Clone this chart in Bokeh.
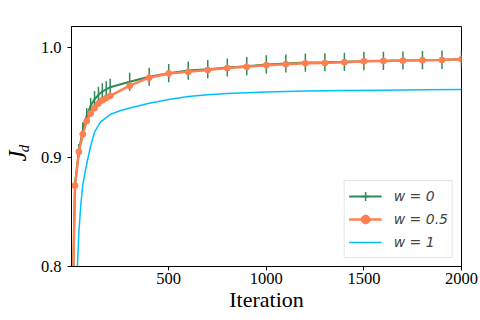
import math
from bokeh.plotting import figure
from bokeh.models import Range1d, FixedTicker, Legend, LegendItem, LinearAxis, ColumnDataSource
from bokeh.embed import file_html
from bokeh.resources import INLINE

# ---- data ----
iters = [0, 20, 40, 60, 80, 100, 120, 140, 160, 180, 200,
         300, 400, 500, 600, 700, 800, 900, 1000, 1100, 1200, 1300,
         1400, 1500, 1600, 1700, 1800, 1900, 2000]
jd_w0 = [0.70, 0.875, 0.906, 0.925, 0.938, 0.947, 0.953, 0.957, 0.960, 0.962, 0.964,
         0.969, 0.9735, 0.9768, 0.9792, 0.9805, 0.9820, 0.9832, 0.9848, 0.9857, 0.9865, 0.9868,
         0.9872, 0.9878, 0.9881, 0.9884, 0.9887, 0.9890, 0.9895]
err_w0 = [0.0, 0.005, 0.006, 0.007, 0.007, 0.007, 0.0075, 0.0075, 0.0075, 0.0075, 0.0078,
          0.0083, 0.0083, 0.0083, 0.0083, 0.0083, 0.0083, 0.0083, 0.0083, 0.0083, 0.0083, 0.0083,
          0.0083, 0.0083, 0.0083, 0.0083, 0.0083, 0.0083, 0.0083]
jd_w05 = [0.70, 0.874, 0.905, 0.921, 0.933, 0.940, 0.945, 0.949, 0.952, 0.954, 0.956,
          0.9654, 0.9727, 0.9766, 0.9780, 0.9797, 0.9815, 0.9827, 0.9841, 0.9850, 0.9859, 0.9862,
          0.9868, 0.9877, 0.9880, 0.9883, 0.9886, 0.9889, 0.9895]
iters_w1 = [20, 30, 40, 50, 60, 80, 100, 120, 150, 200, 250, 300, 400, 500, 600,
            700, 800, 900, 1000, 1200, 1400, 1600, 1800, 2000]
jd_w1 = [0.70, 0.79, 0.832, 0.857, 0.875, 0.894, 0.910, 0.923, 0.932, 0.939, 0.9425, 0.945,
         0.9493, 0.9527, 0.9554, 0.957, 0.9582, 0.959, 0.9597, 0.9605, 0.961, 0.9613, 0.9616, 0.9618]
labels = ["w = 0", "w = 0.5", "w = 1"]
x_ticks = [500, 1000, 1500, 2000]
y_ticks = [0.8, 0.9, 1.0]
y_tick_labels = ["0.8", "0.9", "1.0"]

GREEN = "#2E8B57"
ORANGE = "#FF7F50"
BLUE = "#00BFFF"
SERIF = "Liberation Serif"
NBSP = "\u00a0"

p = figure(width=480, height=320, output_backend="svg", toolbar_location=None,
           x_range=Range1d(2, 2000), y_range=Range1d(0.8, 1.0195),
           min_border_left=67, min_border_right=19, min_border_top=26, min_border_bottom=54)
p.title.visible = False
p.grid.visible = False
p.outline_line_color = "black"
p.outline_line_alpha = 1.0
p.outline_line_width = 1
p.background_fill_color = "white"
p.border_fill_color = "white"

for ax in (p.xaxis[0], p.yaxis[0]):
    ax.axis_line_color = "black"
    ax.major_tick_line_color = "black"
    ax.minor_tick_line_color = None
    ax.major_tick_in = 0
    ax.major_tick_out = 4
    ax.major_label_text_font = SERIF
    ax.major_label_text_font_size = "16.5px"
    ax.major_label_text_color = "black"

p.xaxis[0].ticker = FixedTicker(ticks=x_ticks)
p.xaxis[0].major_label_standoff = 2
p.xaxis[0].axis_label = "Iteration"
p.xaxis[0].axis_label_text_font = SERIF
p.xaxis[0].axis_label_text_font_size = "22px"
p.xaxis[0].axis_label_text_font_style = "normal"
p.xaxis[0].axis_label_text_color = "black"
p.xaxis[0].axis_label_standoff = 0

# y axis: label "J" (main symbol)
p.yaxis[0].ticker = FixedTicker(ticks=y_ticks)
p.yaxis[0].major_label_overrides = dict(zip(y_ticks, y_tick_labels))
p.yaxis[0].major_label_standoff = 6
p.yaxis[0].axis_label = "J" + NBSP * 3
p.yaxis[0].axis_label_text_font = SERIF
p.yaxis[0].axis_label_text_font_size = "25px"
p.yaxis[0].axis_label_text_font_style = "italic"
p.yaxis[0].axis_label_text_color = "black"
p.yaxis[0].axis_label_standoff = 7

# subscript "d" of J_d, carried by a tick-less helper axis
sub_axis = LinearAxis(ticker=FixedTicker(ticks=[]), axis_line_color=None,
                      major_tick_line_color=None, minor_tick_line_color=None,
                      major_label_text_font_size="0px",
                      axis_label="d" + NBSP, axis_label_text_font=SERIF,
                      axis_label_text_font_size="15px", axis_label_text_font_style="italic",
                      axis_label_text_color="black", axis_label_standoff=-31)
p.add_layout(sub_axis, "left")

# ---- series ----
src0 = ColumnDataSource(dict(x=iters, y=jd_w0,
                             lo=[a - e for a, e in zip(jd_w0, err_w0)],
                             hi=[a + e for a, e in zip(jd_w0, err_w0)]))
src05 = ColumnDataSource(dict(x=iters, y=jd_w05))
src1 = ColumnDataSource(dict(x=iters_w1, y=jd_w1))

l0 = p.line("x", "y", source=src0, line_color=GREEN, line_width=2)
p.segment(x0="x", y0="lo", x1="x", y1="hi", source=src0, line_color=GREEN, line_width=1.5)
# legend-only "+" symbol standing for the error bars
leg_bar = p.scatter(x=[math.nan], y=[math.nan], marker="cross",
                    size=10, line_color=GREEN, line_width=1.5)

l05 = p.line("x", "y", source=src05, line_color=ORANGE, line_width=2.5)
m05 = p.scatter("x", "y", source=src05, marker="circle", size=6,
                fill_color=ORANGE, line_color=ORANGE)

l1 = p.line("x", "y", source=src1, line_color=BLUE, line_width=1.5)

legend = Legend(items=[LegendItem(label=labels[0], renderers=[l0, leg_bar]),
                       LegendItem(label=labels[1], renderers=[l05, m05]),
                       LegendItem(label=labels[2], renderers=[l1])],
                location="bottom_right")
legend.label_text_font = "DejaVu Sans"
legend.label_text_font_size = "14px"
legend.label_text_font_style = "italic"
legend.glyph_width = 33
legend.glyph_height = 22
legend.label_height = 22
legend.spacing = 1
legend.padding = 4
legend.margin = 8
legend.label_standoff = 12
legend.border_line_color = "#cccccc"
legend.border_line_width = 1
legend.background_fill_alpha = 0.8
p.add_layout(legend)

open("out.html", "w").write(file_html(p, INLINE))
